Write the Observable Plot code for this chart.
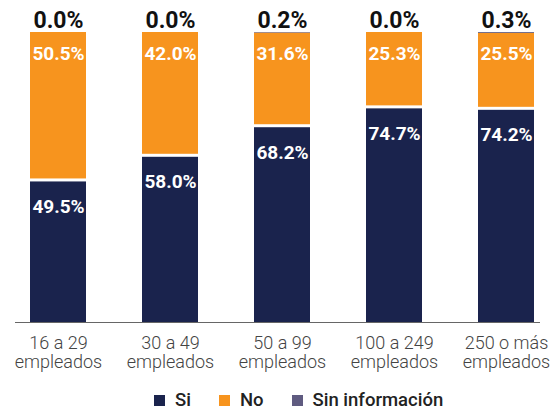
<!DOCTYPE html>
<html>
<head>
<meta charset="utf-8">
<script src="https://cdn.jsdelivr.net/npm/d3@7"></script>
<script src="https://cdn.jsdelivr.net/npm/@observablehq/plot@0.6"></script>
<style>
  body { margin: 0; background: #fff; font-family: Roboto, sans-serif; overflow: hidden; }
  #legend { display: flex; justify-content: flex-start; align-items: center; height: 24px; line-height: 24px; padding-top: 8px; padding-left: 154px; font-family: Roboto, sans-serif; font-weight: 500; font-size: 18.5px; color: #222; }
  #legend .item { display: flex; align-items: center; margin-right: 28px; }
  #legend .sw { width: 11px; height: 11px; margin-right: 10px; }
</style>
</head>
<body>
<div id="chart"></div>
<div id="legend"></div>
<script>
const categories = ["16 a 29 empleados", "30 a 49 empleados", "50 a 99 empleados", "100 a 249 empleados", "250 o más empleados"];
const tickLabels = ["16 a 29\nempleados", "30 a 49\nempleados", "50 a 99\nempleados", "100 a 249\nempleados", "250 o más\nempleados"];
const si = [49.5, 58.0, 68.2, 74.7, 74.2];
const no = [50.5, 42.0, 31.6, 25.3, 25.5];
const sinInfo = [0.0, 0.0, 0.2, 0.0, 0.3];
const series = ["Si", "No", "Sin información"];
const colors = ["#1a234d", "#f7941e", "#5f5b80"];

const rows = [];
categories.forEach((c, i) => {
  const vals = [si[i], no[i], sinInfo[i]];
  let acc = 0;
  vals.forEach((v, j) => {
    rows.push({cat: c, serie: series[j], value: v, y1: acc, y2: acc + v});
    acc += v;
  });
});
const siRows = rows.filter(d => d.serie === "Si");
const noRows = rows.filter(d => d.serie === "No");
const sinRows = rows.filter(d => d.serie === "Sin información");
const fmt = v => v.toFixed(1) + "%";
const tickMap = new Map(categories.map((c, i) => [c, tickLabels[i]]));

const plot = Plot.plot({
  width: 550,
  height: 380,
  marginTop: 32,
  marginBottom: 58,
  marginLeft: 15,
  marginRight: 10,
  style: {fontFamily: "Roboto, sans-serif", background: "#fff", display: "block"},
  x: {domain: categories, range: [30, 534], paddingInner: 0.5, paddingOuter: 0, axis: null},
  y: {domain: [0, 100], axis: null},
  color: {domain: series, range: colors},
  marks: [
    Plot.barY(siRows, {x: "cat", y1: "y1", y2: "y2", fill: colors[0], insetTop: 3}),
    Plot.barY(noRows, {x: "cat", y1: "y1", y2: "y2", fill: colors[1]}),
    Plot.barY(sinRows, {x: "cat", y1: "y1", y2: "y2", fill: colors[2]}),
    Plot.ruleY([0], {stroke: "#666", strokeWidth: 1}),
    Plot.text(siRows, {x: "cat", y: "y2", text: d => fmt(d.value), dy: 28, fill: "white", fontWeight: "bold", fontSize: 19}),
    Plot.text(noRows, {x: "cat", y: "y2", text: d => fmt(d.value), dy: 21, fill: "white", fontWeight: "bold", fontSize: 19}),
    Plot.text(sinRows, {x: "cat", y: "y2", text: d => fmt(d.value), dy: -12, fill: "#111", fontWeight: "bold", fontSize: 23}),
    Plot.axisX({tickSize: 0, tickPadding: 13, fontSize: 18, fontWeight: 300, fill: "#444", lineHeight: 1.05, tickFormat: d => tickMap.get(d), label: null})
  ]
});
document.getElementById("chart").appendChild(plot);

const legend = document.getElementById("legend");
series.forEach((s, i) => {
  const item = document.createElement("div");
  item.className = "item";
  const sw = document.createElement("div");
  sw.className = "sw";
  sw.style.background = colors[i];
  const t = document.createElement("span");
  t.textContent = s;
  item.appendChild(sw);
  item.appendChild(t);
  legend.appendChild(item);
});
</script>
</body>
</html>
